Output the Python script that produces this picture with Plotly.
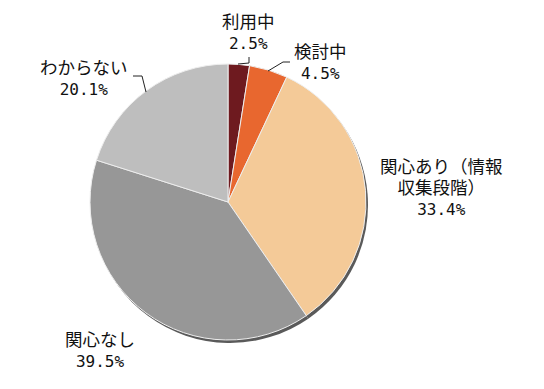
import plotly.graph_objects as go

categories = ["利用中", "検討中", "関心あり（情報<br>収集段階）", "関心なし", "わからない"]
values = [2.5, 4.5, 33.4, 39.5, 20.1]
colors = ["#6E1A1F", "#E8672F", "#F4CA98", "#979797", "#BEBEBE"]

W, H = 544, 389
cx, cy, r = 228, 202, 138


def px(x):
    return x / W


def py(y):
    return 1 - y / H


fig = go.Figure()
# shadow
fig.add_trace(go.Pie(
    values=values, labels=categories, sort=False, direction="clockwise", rotation=0,
    marker=dict(colors=["#5A5A5A"] * len(values), line=dict(width=0)),
    textinfo="none", hoverinfo="skip", showlegend=False,
    domain=dict(x=[px(cx - r + 2), px(cx + r + 2)], y=[py(cy + r + 3), py(cy - r + 3)]),
))
fig.add_trace(go.Pie(
    values=values, labels=categories, sort=False, direction="clockwise", rotation=0,
    marker=dict(colors=colors, line=dict(color="#EEEEEE", width=1)),
    textinfo="none", hoverinfo="label+percent", showlegend=False,
    domain=dict(x=[px(cx - r), px(cx + r)], y=[py(cy + r), py(cy - r)]),
))

font = dict(family="DejaVu Sans Mono, Noto Sans CJK JP", size=16, color="#111111")
label_pos = [(248, 32), (320, 63), (441, 188), (100, 350), (84, 78)]
annotations = []
for cat, v, (x, y) in zip(categories, values, label_pos):
    annotations.append(dict(
        x=px(x), y=py(y), xref="paper", yref="paper", xanchor="center", yanchor="middle",
        text=f"<span style='font-size:17.5px'>{cat}</span><br>{v:.1f}%",
        showarrow=False, font=font, align="center",
    ))

leaders = [
    [(249, 57), (249, 63), (238, 64)],
    [(290, 62), (283, 62), (268, 71)],
    [(133, 76), (142, 76), (146, 92)],
]
shapes = []
for pts in leaders:
    path = "M " + " L ".join(f"{px(a)},{py(b)}" for a, b in pts)
    shapes.append(dict(type="path", xref="paper", yref="paper", path=path,
                       line=dict(color="#222222", width=1)))

fig.update_layout(
    width=W, height=H, margin=dict(l=0, r=0, t=0, b=0),
    paper_bgcolor="white", plot_bgcolor="white",
    annotations=annotations, shapes=shapes,
)
fig.write_html("out.html")
